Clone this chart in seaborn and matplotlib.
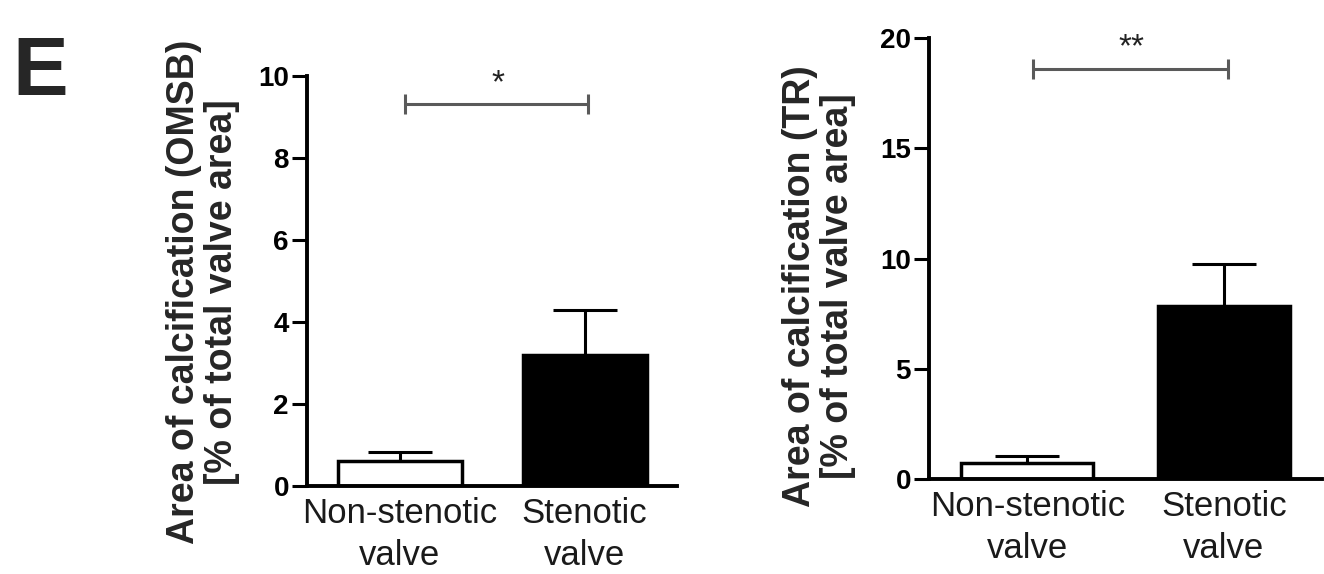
import numpy as np
import matplotlib
matplotlib.use("Agg")
import matplotlib.pyplot as plt
import seaborn as sns

# data
groups = ["Non-stenotic\nvalve", "Stenotic\nvalve"]
omsb_mean = [0.6, 3.2]
omsb_sem = [0.23, 1.1]
tr_mean = [0.73, 7.85]
tr_sem = [0.3, 1.9]
omsb_ticks = [0, 2, 4, 6, 8, 10]
tr_ticks = [0, 5, 10, 15, 20]
omsb_star = "*"
tr_star = "**"

sns.set_style("ticks")
plt.rcParams["font.family"] = ["Liberation Sans", "DejaVu Sans"]

fig = plt.figure(figsize=(13.24, 5.74), dpi=100)
ax1 = fig.add_axes([0.2319, 0.1533, 0.2795, 0.7143])
ax2 = fig.add_axes([0.7017, 0.1655, 0.2968, 0.7683])


def draw_panel(ax, means, sems, ticks, ylabel, star, sig_y, star_y, lab_xy):
    sns.barplot(x=groups, y=means, hue=groups, palette=["white", "black"],
                edgecolor="black", linewidth=2.5, width=0.67, errorbar=None,
                legend=False, ax=ax, zorder=2)
    _, caps, _ = ax.errorbar(x=[0, 1], y=means, yerr=[[0, 0], sems], fmt="none",
                             ecolor="black", elinewidth=2.2, capsize=23,
                             capthick=2.2, zorder=3)
    caps[0].set_visible(False)

    ax.set_xlim(-0.5, 1.5)
    ax.set_ylim(ticks[0], ticks[-1])
    ax.set_yticks(ticks)
    ax.set_yticklabels([str(t) for t in ticks], fontsize=20, fontweight="bold")
    ax.set_xlabel("")
    ax.set_ylabel("")
    sns.despine(ax=ax)
    for side in ["left", "bottom"]:
        ax.spines[side].set_linewidth(2.8)
        ax.spines[side].set_color("black")
    ax.tick_params(axis="y", length=11, width=2.2, pad=2, color="black",
                   labelcolor="black")
    ax.tick_params(axis="x", length=0, pad=8, labelsize=25,
                   labelcolor="#1a1a1a")
    for lbl in ax.get_xticklabels():
        lbl.set_linespacing(1.36)

    # significance bracket
    ax.plot([0.03, 1.02], [sig_y, sig_y], color="#5a5a5a", lw=2.2,
            marker="|", markersize=15, markeredgewidth=2.2, clip_on=False,
            zorder=4)
    ax.text(0.53, star_y, star, ha="center", va="center", fontsize=24,
            color="#222222", clip_on=False)

    ax.text(lab_xy[0], lab_xy[1], ylabel, transform=ax.transAxes,
            rotation=90, ha="center", va="center", multialignment="center",
            fontsize=27, fontweight="bold", linespacing=1.1)


draw_panel(ax1, omsb_mean, omsb_sem, omsb_ticks,
           "Area of calcification (OMSB)\n[% of total valve area]",
           omsb_star, 9.31, 9.8, (-0.281, 0.473))
draw_panel(ax2, tr_mean, tr_sem, tr_ticks,
           "Area of calcification (TR)\n[% of total valve area]",
           tr_star, 18.6, 19.55, (-0.28, 0.437))

fig.text(0.009, 0.834, "E", fontsize=60, fontweight="bold",
         ha="left", va="baseline")

fig.savefig("out.png", dpi=100, facecolor="white")
